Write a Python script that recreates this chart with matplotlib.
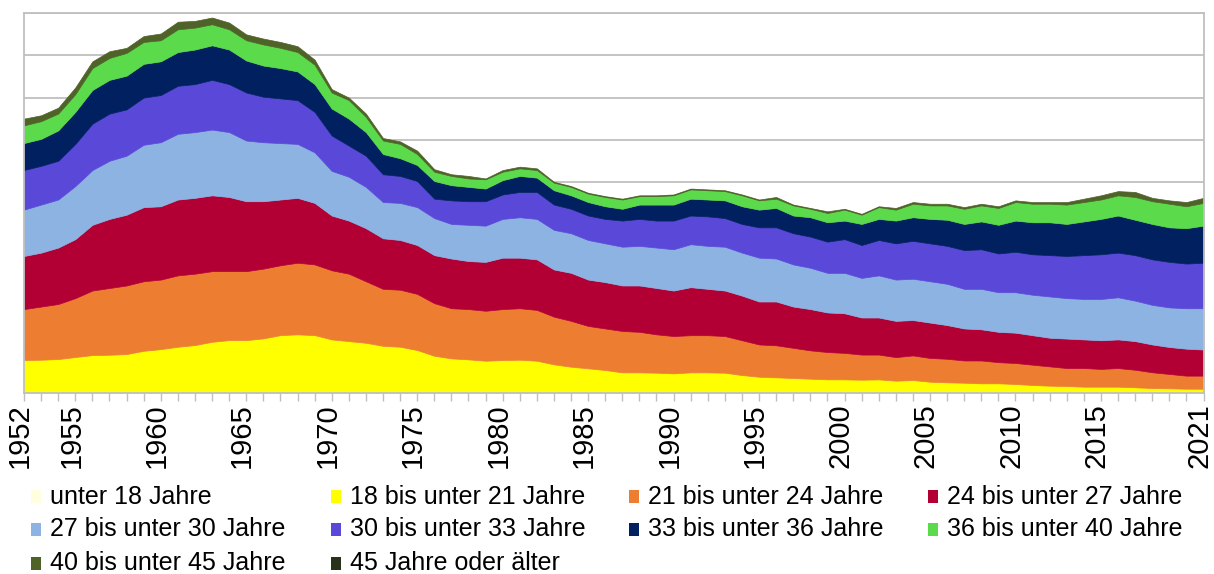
import numpy as np
import matplotlib
matplotlib.use('Agg')
import matplotlib.pyplot as plt
import matplotlib.transforms as mtransforms
from matplotlib.patches import Rectangle

plt.rcParams['font.family'] = ['Liberation Sans', 'DejaVu Sans']

# Jahre 1952-2021
years = np.arange(1952, 2022)

unter_21 = [38.5, 38.9, 39.7, 42.1, 44.4, 44.8, 45.6, 49.5, 51.5, 54.3,
            56.3, 60.2, 62.2, 62.2, 64.2, 68.1, 69.0, 68.1, 63.0, 61.0,
            59.0, 55.4, 54.3, 50.4, 43.6, 40.5, 39.3, 37.7, 38.5, 38.9,
            37.7, 33.4, 30.6, 28.7, 26.7, 23.9, 23.9, 23.5, 22.7, 23.9,
            23.9, 23.5, 20.7, 18.7, 18.0, 17.2, 16.4, 15.6, 15.6, 15.2,
            15.6, 14.0, 14.8, 12.8, 12.1, 11.6, 10.9, 10.9, 10.1, 8.9,
            8.1, 7.7, 6.9, 6.9, 6.9, 6.2, 5.3, 5.0, 4.5, 4.5]
unter_24 = [99, 102, 105, 112, 121, 124, 127, 132, 134, 139,
            141, 144, 144, 144, 147, 151, 154, 152, 145, 141,
            132, 123, 122, 117, 106, 100, 99, 97, 99, 100,
            98, 90, 85, 79, 76, 73, 72, 69, 67, 68,
            68, 67, 62, 57, 56, 53, 50, 48, 47, 45,
            45, 42, 44, 41, 40, 38, 38, 36, 35, 33,
            31, 29, 29, 28, 29, 27, 24, 22, 20, 20]
unter_27 = [162, 166, 172, 182, 199, 206, 211, 220, 221, 229,
            231, 234, 232, 227, 227, 229, 231, 225, 210, 204,
            195, 183, 181, 175, 163, 159, 156, 155, 160, 160,
            158, 146, 142, 134, 131, 127, 127, 124, 121, 125,
            123, 121, 115, 108, 108, 102, 99, 95, 94, 89,
            89, 85, 86, 83, 80, 76, 75, 72, 71, 68,
            65, 64, 63, 62, 63, 61, 57, 54, 52, 51]
unter_30 = [217, 223, 229, 245, 264, 275, 281, 294, 297, 307,
            309, 312, 309, 299, 297, 296, 295, 285, 263, 256,
            244, 226, 225, 220, 207, 200, 199, 198, 206, 208,
            206, 193, 189, 181, 177, 173, 174, 172, 170, 176,
            174, 173, 166, 160, 159, 152, 148, 142, 142, 136,
            139, 134, 135, 132, 129, 123, 123, 119, 119, 116,
            114, 112, 111, 111, 113, 109, 104, 101, 100, 100]
unter_33 = [264, 269, 275, 295, 319, 331, 336, 350, 353, 364,
            366, 371, 366, 356, 351, 349, 347, 333, 305, 293,
            281, 259, 257, 251, 230, 228, 227, 227, 235, 238,
            238, 223, 218, 210, 206, 204, 206, 204, 204, 210,
            209, 207, 200, 196, 196, 189, 185, 179, 182, 175,
            181, 177, 180, 177, 174, 169, 170, 165, 167, 164,
            163, 162, 163, 164, 166, 163, 158, 155, 153, 154]
unter_36 = [296, 301, 311, 333, 359, 371, 376, 390, 393, 404,
            407, 412, 407, 394, 388, 385, 381, 366, 337, 325,
            309, 283, 278, 270, 251, 246, 244, 242, 252, 257,
            255, 240, 234, 226, 221, 218, 223, 223, 223, 230,
            229, 228, 221, 217, 219, 210, 208, 202, 204, 200,
            206, 204, 208, 206, 205, 200, 203, 199, 204, 202,
            202, 200, 203, 206, 210, 205, 200, 196, 195, 198]
unter_40 = [317, 322, 331, 354, 385, 397, 403, 416, 418, 431,
            433, 437, 431, 418, 413, 409, 404, 389, 356, 347,
            327, 299, 295, 283, 262, 257, 254, 253, 262, 266,
            264, 249, 244, 236, 232, 229, 233, 233, 234, 241,
            240, 239, 234, 228, 230, 222, 218, 213, 217, 211,
            220, 217, 224, 222, 222, 218, 222, 219, 226, 224,
            224, 223, 226, 229, 234, 232, 227, 224, 221, 225]
unter_45 = [325, 329, 338, 362, 393, 405, 409, 423, 426, 440,
            441, 445, 439, 425, 420, 416, 411, 395, 360, 350,
            331, 302, 298, 287, 265, 259, 257, 254, 264, 268,
            266, 250, 245, 237, 233, 230, 234, 234, 235, 242,
            241, 240, 235, 229, 232, 223, 219, 215, 218, 212,
            221, 219, 226, 224, 224, 220, 224, 221, 228, 226,
            226, 226, 230, 234, 239, 238, 231, 228, 226, 231]

labels = ['unter 18 Jahre', '18 bis unter 21 Jahre', '21 bis unter 24 Jahre',
          '24 bis unter 27 Jahre', '27 bis unter 30 Jahre', '30 bis unter 33 Jahre',
          '33 bis unter 36 Jahre', '36 bis unter 40 Jahre', '40 bis unter 45 Jahre',
          '45 Jahre oder älter']
colors = ['#FFFFE0', '#FFFF00', '#ED7D31', '#B30034', '#8DB3E2', '#5A48D8',
          '#002060', '#5BDB4B', '#4F6228', '#28321A']
tick_years = [1952, 1955, 1960, 1965, 1970, 1975, 1980, 1985, 1990, 1995,
              2000, 2005, 2010, 2015, 2021]

W, H = 1214, 574
fig = plt.figure(figsize=(W / 100, H / 100), dpi=100)
ax = fig.add_axes([24 / W, 1 - 392.5 / H, (1203.5 - 24) / W, (392.5 - 13.3) / H])

layers = [np.zeros(len(years)), unter_21, unter_24, unter_27, unter_30,
          unter_33, unter_36, unter_40, unter_45]
for i in range(1, len(layers)):
    ax.fill_between(years, layers[i - 1], layers[i], facecolor=colors[i],
                    edgecolor=colors[i], linewidth=0.5, zorder=2)

ax.set_xlim(1952, 2021)
ax.set_ylim(0, 450)
ax.set_yticks(range(0, 451, 50))
ax.yaxis.grid(True, color='#BFBFBF', linewidth=1.3, zorder=0)
ax.set_axisbelow(True)
ax.tick_params(axis='y', left=False, labelleft=False)

ax.set_xticks(years)
ax.set_xticklabels([str(y) if y in tick_years else '' for y in years],
                   rotation=90, fontsize=21)
ax.tick_params(axis='x', direction='out', length=6, width=1, color='#BFBFBF', pad=2)
shift = mtransforms.ScaledTranslation(-4 / 100, 0, fig.dpi_scale_trans)
for lbl in ax.get_xticklabels():
    lbl.set_transform(lbl.get_transform() + shift)
for s in ax.spines.values():
    s.set_color('#BFBFBF')
    s.set_linewidth(1.3)

# Legende, zeilenweise wie im Original
col_x = [31, 331, 629, 928]
row_y = [496.5, 529.5, 563.5]
for i, (lab, c) in enumerate(zip(labels, colors)):
    r, k = divmod(i, 4)
    x, y = col_x[k], row_y[r]
    fig.add_artist(Rectangle((x / W, 1 - (y + 6.5) / H), 10 / W, 13 / H,
                             transform=fig.transFigure, facecolor=c, edgecolor='none'))
    fig.text((x + 19) / W, 1 - y / H, lab, fontsize=18, va='center', ha='left')

fig.savefig('out.png', dpi=100)
